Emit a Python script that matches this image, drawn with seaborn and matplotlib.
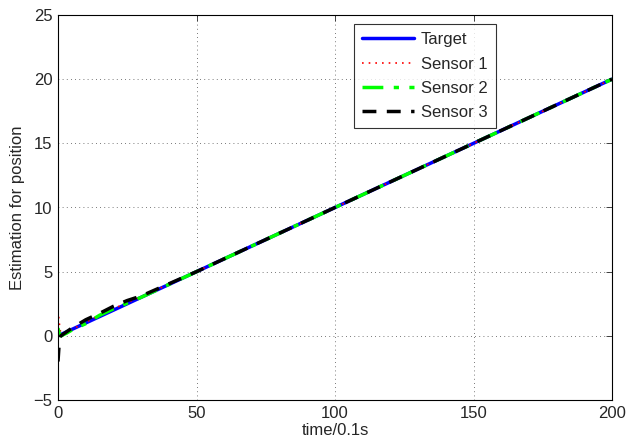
import numpy as np
import pandas as pd
import matplotlib
matplotlib.use("Agg")
import matplotlib.pyplot as plt
import seaborn as sns

# ---- data ----
t_target = [0, 50, 100, 150, 200]
target = [0.0, 5.0, 10.0, 15.0, 20.0]

t_s1 = [0, 0.3, 0.6, 1, 2, 3, 5, 10, 15, 20, 25, 30, 50, 100, 150, 200]
sensor1 = [2.0, 1.4, 0.7, 0.2, 0.2, 0.3, 0.5, 1.05, 1.6, 2.1, 2.6, 3.05, 5.0, 10.0, 15.0, 20.0]

t_s2 = [0, 0.3, 0.6, 1, 2, 3, 5, 10, 15, 20, 25, 30, 50, 100, 150, 200]
sensor2 = [0.6, 0.3, 0.1, 0.0, 0.1, 0.2, 0.45, 0.95, 1.6, 2.1, 2.55, 3.0, 5.0, 10.0, 15.0, 20.0]

t_s3 = [0, 0.3, 0.6, 1, 2, 3, 5, 10, 15, 20, 25, 30, 50, 100, 150, 200]
sensor3 = [-2.0, -1.0, -0.3, 0.0, 0.15, 0.3, 0.6, 1.25, 1.75, 2.3, 2.75, 3.1, 5.0, 10.0, 15.0, 20.0]

x_ticks = [0, 50, 100, 150, 200]
y_ticks = [-5, 0, 5, 10, 15, 20, 25]

# ---- figure ----
sns.set_style("white")
plt.rcParams["font.family"] = ["Liberation Sans", "DejaVu Sans"]
plt.rcParams["axes.unicode_minus"] = True

fig = plt.figure(figsize=(6.27, 4.40), dpi=100)
ax = fig.add_axes([58 / 627, 1 - 400 / 440, (612 - 58) / 627, (400 - 15) / 440])

df_t = pd.DataFrame({"t": t_target, "v": target})
df1 = pd.DataFrame({"t": t_s1, "v": sensor1})
df2 = pd.DataFrame({"t": t_s2, "v": sensor2})
df3 = pd.DataFrame({"t": t_s3, "v": sensor3})

sns.lineplot(data=df_t, x="t", y="v", ax=ax, color="#0000ff", lw=2.5,
             label="Target", estimator=None, sort=False)
sns.lineplot(data=df1, x="t", y="v", ax=ax, color="#ff0000", lw=1.2,
             linestyle=(0, (1, 3)), label="Sensor 1", estimator=None, sort=False)
sns.lineplot(data=df2, x="t", y="v", ax=ax, color="#00ff00", lw=2.5,
             linestyle=(0, (6, 3, 1.5, 3)), label="Sensor 2", estimator=None, sort=False)
sns.lineplot(data=df3, x="t", y="v", ax=ax, color="#000000", lw=2.5,
             linestyle=(0, (4, 3)), label="Sensor 3", estimator=None, sort=False)

ax.set_xlim(0, 200)
ax.set_ylim(-5, 25)
ax.set_xticks(x_ticks)
ax.set_yticks(y_ticks)
ax.set_xticklabels([str(v) for v in x_ticks])
ax.set_yticklabels([str(v).replace("-", "\u2212") for v in y_ticks])
ax.tick_params(direction="in", top=True, right=True, length=4, width=0.6,
               labelsize=12, pad=4)
ax.grid(True, color="black", linestyle=(0, (1, 4)), linewidth=0.6, alpha=0.7)
for s in ax.spines.values():
    s.set_linewidth(0.8)
    s.set_color("black")

ax.set_xlabel("time/0.1s", fontsize=12, labelpad=2)
ax.set_ylabel("Estimation for position", fontsize=12, labelpad=6)

leg = ax.legend(loc="upper left", bbox_to_anchor=((354 - 58) / 554, 1 - (24 - 15) / 385),
                fontsize=12, frameon=True, fancybox=False, handlelength=3.1,
                borderpad=0.5, labelspacing=0.55, handletextpad=0.4, borderaxespad=0)
leg.get_frame().set_edgecolor("black")
leg.get_frame().set_linewidth(0.8)

fig.savefig("out.png", dpi=100)
